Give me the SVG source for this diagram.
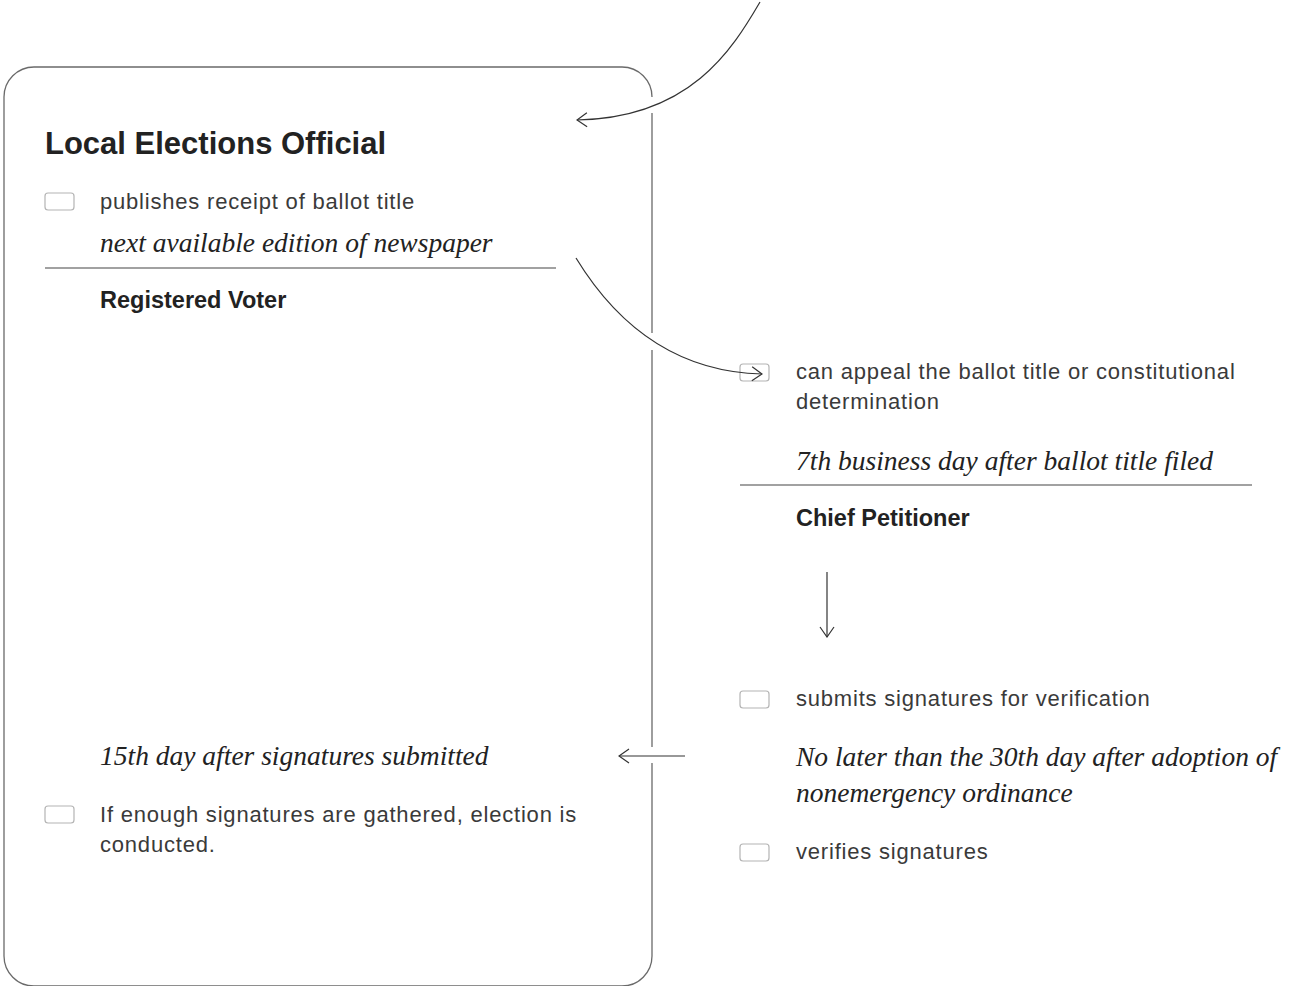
<svg xmlns="http://www.w3.org/2000/svg" width="1295" height="986" viewBox="0 0 1295 986">
<style>
.frame{fill:none;stroke:#6a6a6a;stroke-width:1.3}
.rule{stroke:#444;stroke-width:1.2}
.box{fill:#fff;stroke:#b4b4b4;stroke-width:1.2}
.h1{font-family:"Liberation Sans",Arial,sans-serif;font-weight:bold;font-size:31px;fill:#222}
.h2{font-family:"Liberation Sans",Arial,sans-serif;font-weight:bold;font-size:23.5px;fill:#222}
.t{font-family:"Liberation Sans",Arial,sans-serif;font-size:22px;letter-spacing:0.8px;fill:#3a3a3a}
.i{font-family:"Liberation Serif","Times New Roman",serif;font-style:italic;font-size:27.5px;fill:#222}
.c{fill:none;stroke:#333;stroke-width:1.2}
</style>
<defs>
<marker id="ah" viewBox="0 0 12 16" refX="11" refY="8" markerWidth="12" markerHeight="16" markerUnits="userSpaceOnUse" orient="auto">
<path d="M1,1 L11,8 L1,15" fill="none" stroke="#333" stroke-width="1.2"/>
</marker>
</defs>
<g id="frame">
<path class="frame" d="M652,97 A30,30 0 0 0 622,67 L34,67 A30,30 0 0 0 4,97 L4,956 A30,30 0 0 0 34,986 L622,986 A30,30 0 0 0 652,956 L652,763 M652,747 L652,350 M652,333 L652,113"/>
</g>
<g id="local-elections-official">
<text class="h1" x="45" y="154">Local Elections Official</text>
<rect class="box" x="45" y="193" width="29" height="17" rx="3"/>
<text class="t" x="100" y="209">publishes receipt of ballot title</text>
<text class="i" x="100" y="252">next available edition of newspaper</text>
<line class="rule" x1="45" y1="268" x2="556" y2="268"/>
</g>
<g id="registered-voter">
<text class="h2" x="100" y="308">Registered Voter</text>
<rect class="box" x="740" y="364" width="29" height="17" rx="3"/>
<text class="t" x="796" y="379">can appeal the ballot title or constitutional</text>
<text class="t" x="796" y="409">determination</text>
<text class="i" x="796" y="470">7th business day after ballot title filed</text>
<line class="rule" x1="740" y1="485" x2="1252" y2="485"/>
</g>
<g id="chief-petitioner">
<text class="h2" x="796" y="526">Chief Petitioner</text>
<rect class="box" x="740" y="691" width="29" height="17" rx="3"/>
<text class="t" x="796" y="706">submits signatures for verification</text>
<text class="i" x="796" y="766">No later than the 30th day after adoption of</text>
<text class="i" x="796" y="802">nonemergency ordinance</text>
<rect class="box" x="740" y="844" width="29" height="17" rx="3"/>
<text class="t" x="796" y="859">verifies signatures</text>
</g>
<g id="election">
<text class="i" x="100" y="765">15th day after signatures submitted</text>
<rect class="box" x="45" y="806" width="29" height="17" rx="3"/>
<text class="t" x="100" y="822">If enough signatures are gathered, election is</text>
<text class="t" x="100" y="852">conducted.</text>
</g>
<g id="connectors">
<path class="c" marker-end="url(#ah)" d="M760,2 C732,50 690,118 577,120"/>
<path class="c" marker-end="url(#ah)" d="M576,258 C620,330 680,372 762,374"/>
<path class="c" marker-end="url(#ah)" d="M827,572 L827,637"/>
<path class="c" marker-end="url(#ah)" d="M685,756 L619,756"/>
</g>
</svg>
